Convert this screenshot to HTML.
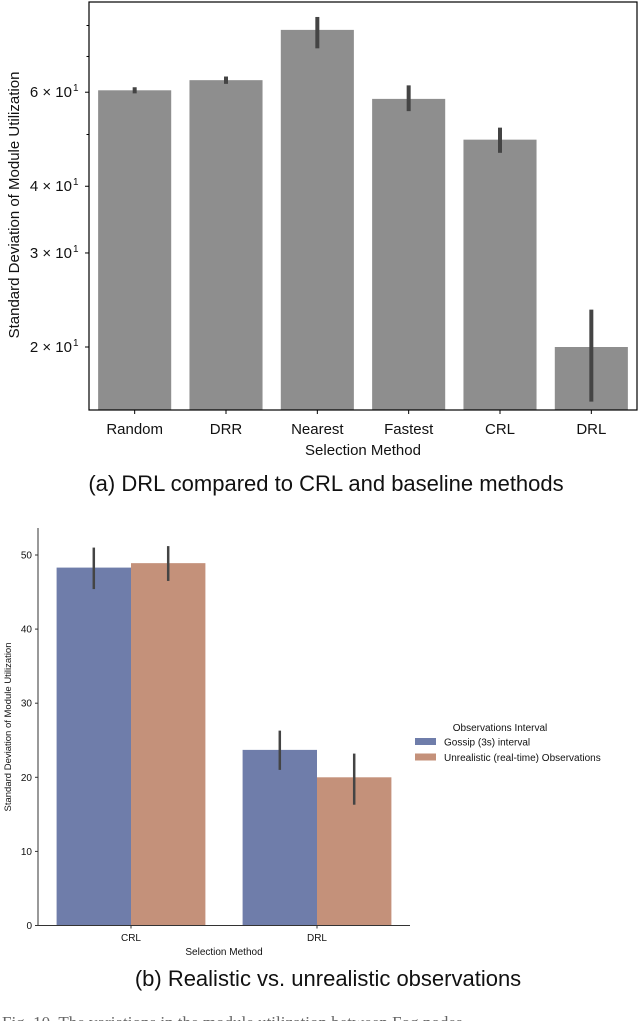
<!DOCTYPE html>
<html><head><meta charset="utf-8"><style>
body{margin:0;background:#fff;width:640px;height:1021px;overflow:hidden}
svg text{font-family:"Liberation Sans","DejaVu Sans",sans-serif}
</style></head><body>
<svg id="s" width="640" height="1021" viewBox="0 0 640 1021">
<g id="top"></g>
<g id="bot"></g>
<text x="326" y="491" font-size="22" text-anchor="middle" fill="#111">(a) DRL compared to CRL and baseline methods</text>
<text x="328" y="986" font-size="22" text-anchor="middle" fill="#111">(b) Realistic vs. unrealistic observations</text>
<text x="2" y="1028" font-size="17" fill="#666" style="font-family:'Liberation Serif',serif">Fig. 10.  The variations in the module utilization between Fog nodes</text>
</svg>
<script>
const NS='http://www.w3.org/2000/svg';
function mk(p,t,a){const e=document.createElementNS(NS,t);for(const k in a)e.setAttribute(k,a[k]);p.appendChild(e);return e;}
// ---- chart A data
const catsA=['Random','DRR','Nearest','Fastest','CRL','DRL'];
const valsA=[60.5,63.2,78.5,58.3,48.9,20];
const loA=[59.7,62.2,72.5,55.3,46.2,15.8];
const hiA=[61.3,64.2,83.0,61.8,51.5,23.5];
const ticksA=[20,30,40,60];
const tickLabA=['2 × 10','3 × 10','4 × 10','6 × 10'];
const minorA=[50,70,80];
// ---- chart B data
const catsB=['CRL','DRL'];
const seriesB=['Gossip (3s) interval','Unrealistic (real-time) Observations'];
const gossipB=[48.3,23.7];
const gossipLoB=[45.4,21.0];
const gossipHiB=[51.0,26.3];
const unrealB=[48.9,20.0];
const unrealLoB=[46.5,16.3];
const unrealHiB=[51.2,23.2];
const ticksB=[0,10,20,30,40,50];

// chart A
(function(){
const g=document.getElementById('top');
const L=89,R=637,T=2,B=410;
const y=v=>347-534*Math.log10(v/20);
const step=(R-L)/catsA.length, bw=step*0.8;
const x=i=>L+step*(i+0.5);
catsA.forEach((c,i)=>{
 const r=mk(g,'rect',{x:x(i)-bw/2,y:y(valsA[i]),width:bw,height:B-y(valsA[i]),fill:'#8e8e8e'});
 
 
 const l=mk(g,'line',{x1:x(i),x2:x(i),y1:y(hiA[i]),y2:y(loA[i]),stroke:'#444','stroke-width':4});
 
 
 mk(g,'line',{x1:x(i),x2:x(i),y1:B,y2:B+4,stroke:'#000'});
 const t=mk(g,'text',{x:x(i),y:434,'font-size':15,'text-anchor':'middle',fill:'#111'});t.textContent=c;
 
 
});
ticksA.forEach((v,i)=>{
 mk(g,'line',{x1:L-4,x2:L,y1:y(v),y2:y(v),stroke:'#000'});
 const t=mk(g,'text',{x:L-17,y:y(v)+5,'font-size':15,'text-anchor':'end',fill:'#111'});
 t.textContent=tickLabA[i];
 
 
 const s=mk(g,'text',{x:L-16,y:y(v)-1,'font-size':10,fill:'#111'});s.textContent='1';
 
 
});
minorA.forEach(v=>mk(g,'line',{x1:L-2.5,x2:L,y1:y(v),y2:y(v),stroke:'#000'}));
const f=mk(g,'rect',{x:L,y:T,width:R-L,height:B-T,fill:'none',stroke:'#000','stroke-width':1.2});

const xl=mk(g,'text',{x:(L+R)/2,y:455,'font-size':15,'text-anchor':'middle',fill:'#111'});xl.textContent='Selection Method';

const yl=mk(g,'text',{x:0,y:0,'font-size':15,'text-anchor':'middle',fill:'#111',transform:'translate(19,205) rotate(-90)'});yl.textContent='Standard Deviation of Module Utilization';

})();

// chart B
(function(){
const g=document.getElementById('bot');
const L=38,R=410,T=528,B=925.5;
const y=v=>B-7.41*v;
const step=(R-L)/catsB.length, bw=step*0.4;
const x=i=>L+step*(i+0.5);
const cols=['#6f7daa','#c4917a'];
const vals=[gossipB,unrealB],los=[gossipLoB,unrealLoB],his=[gossipHiB,unrealHiB];
catsB.forEach((c,i)=>{
 [0,1].forEach(s=>{
  const cx=x(i)+(s?bw/2:-bw/2);
  const r=mk(g,'rect',{x:cx-bw/2,y:y(vals[s][i]),width:bw,height:B-y(vals[s][i]),fill:cols[s]});
  
  
  const l=mk(g,'line',{x1:cx,x2:cx,y1:y(his[s][i]),y2:y(los[s][i]),stroke:'#444','stroke-width':2.5});
  
  
 });
 mk(g,'line',{x1:x(i),x2:x(i),y1:B,y2:B+3,stroke:'#333'});
 const t=mk(g,'text',{x:x(i),y:941,'font-size':10,'text-anchor':'middle',fill:'#111'});t.textContent=c;
 
});
ticksB.forEach(v=>{
 mk(g,'line',{x1:L-3,x2:L,y1:y(v),y2:y(v),stroke:'#333'});
 const t=mk(g,'text',{x:L-6,y:y(v)+3.5,'font-size':10,'text-anchor':'end',fill:'#111'});t.textContent=v;
 
});
mk(g,'line',{x1:L,x2:L,y1:T,y2:B,stroke:'#333','stroke-width':1});
mk(g,'line',{x1:L,x2:R,y1:B,y2:B,stroke:'#333','stroke-width':1});
const xl=mk(g,'text',{x:(L+R)/2,y:955,'font-size':10,'text-anchor':'middle',fill:'#111'});xl.textContent='Selection Method';

const yl=mk(g,'text',{x:0,y:0,'font-size':9.5,'text-anchor':'middle',fill:'#111',transform:'translate(11,727) rotate(-90)'});yl.textContent='Standard Deviation of Module Utilization';

const lt=mk(g,'text',{x:500,y:731,'font-size':10,'text-anchor':'middle',fill:'#111'});lt.textContent='Observations Interval';

seriesB.forEach((s,k)=>{
 const yy=742+k*15.5;
 const p=mk(g,'rect',{x:415,y:yy-4,width:21,height:7,fill:cols[k]});
 
 const t=mk(g,'text',{x:444,y:yy+3.5,'font-size':10,fill:'#111'});t.textContent=s;
 
});
})();
</script>
</body></html>
